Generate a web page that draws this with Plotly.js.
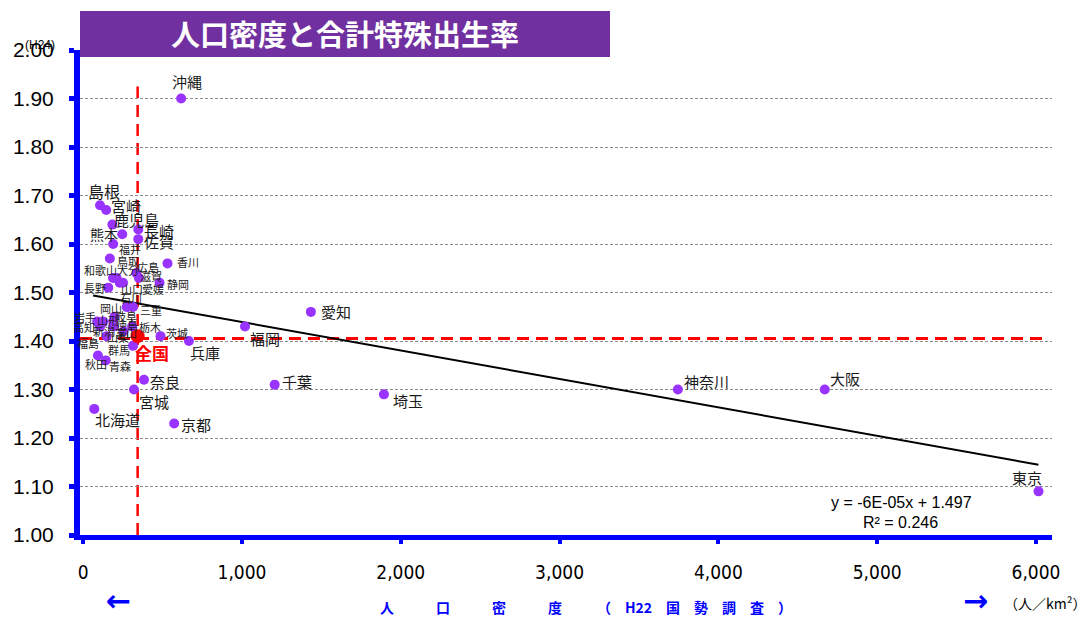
<!DOCTYPE html>
<html><head><meta charset="utf-8">
<script src="https://cdn.plot.ly/plotly-3.0.1.min.js"></script>
<style>html,body{margin:0;padding:0;background:#fff}#chart{width:1091px;height:618px}</style>
</head><body><div id="chart"></div>
<script>
// ---- data ----
const prefNames = ['北海道','青森','岩手','宮城','秋田','山形','福島','茨城','栃木','群馬','埼玉','千葉','東京','神奈川','新潟','富山','石川','福井','山梨','長野','岐阜','静岡','愛知','三重','滋賀','京都','大阪','兵庫','奈良','和歌山','鳥取','島根','岡山','広島','山口','徳島','香川','愛媛','高知','福岡','佐賀','長崎','熊本','大分','宮崎','鹿児島','沖縄'];
const density = [70,142,88,320,93,125,147,487,308,314,1894,1206,6016,3745,189,254,280,189,193,158,197,481,1434,314,351,573,4670,666,383,211,168,106,274,335,230,189,531,251,107,1019,347,347,246,188,145,184,617];
const tfr = [1.26,1.36,1.44,1.30,1.37,1.44,1.41,1.41,1.43,1.39,1.29,1.31,1.09,1.30,1.43,1.42,1.47,1.60,1.43,1.51,1.45,1.52,1.46,1.47,1.53,1.23,1.30,1.40,1.32,1.53,1.57,1.68,1.47,1.54,1.52,1.44,1.56,1.52,1.43,1.43,1.61,1.63,1.62,1.53,1.67,1.64,1.90];
const nationName = '全国';
const nationDensity = [343];
const nationTfr = [1.41];
const nationRefLineY = 1.405;
const trendX = [63, 6016];
const trendY = [1.494, 1.145];
const xTickVals = [0,1000,2000,3000,4000,5000,6000];
const yTickVals = [1.0,1.1,1.2,1.3,1.4,1.5,1.6,1.7,1.8,1.9,2.0];
const titleText = '人口密度と合計特殊出生率';
const yUnitText = '(H24)';
const eqLine1 = 'y = -6E-05x + 1.497';
const eqLine2 = 'R² = 0.246';
const xTitleText = '人　　　口　　　密　　　度　　　（　H22　国　勢　調　査　）';
const xUnitText = '（人／km²）';
const leftArrow = '←';
const rightArrow = '→';

// ---- label placement (pixel offsets, font size) ----
const labelPos = {
 '沖縄':[6,-17,15],'島根':[4,-14,16],'宮崎':[20,-5,15],'鹿児島':[24,-5,15],'熊本':[-18,0,14],
 '長崎':[21,1,15],'佐賀':[21,2,15],'福井':[17,5,11],'鳥取':[18,2,11],'香川':[20,-1,11],
 '広島':[12,-6,11],'和歌山':[-16,-8,11],'大分':[15,-8,11],'滋賀':[12,-2,11],'静岡':[18,1,11],
 '長野':[-13,0,11],'山口':[12,6,11],'愛媛':[30,6,11],'石川':[3,-9,11],'岡山':[-16,1,11],
 '三重':[18,3,11],'岩手':[-12,-5,11],'高知':[-16,1,11],'山形':[5,-2,11],'岐阜':[12,-1,11],
 '徳島':[14,3,11],'新潟':[-9,5,11],'富山':[2,2,11],'山梨':[4,11,11],'栃木':[18,1,11],
 '茨城':[16,-3,11],'福島':[-19,7,11],'群馬':[-14,4,11],'秋田':[-2,8,11],'青森':[14,6,11],
 '奈良':[21,2,15],'宮城':[20,12,15],'北海道':[23,11,15],'京都':[22,1,15],'兵庫':[16,11,15],
 '福岡':[20,12,15],'愛知':[25,0,15],'千葉':[22,-3,15],'埼玉':[24,6,15],'神奈川':[29,-8,15],
 '大阪':[20,-11,15],'東京':[-12,-14,15]
};

const W=1091,H=618,L=80,R=39,T=50,B=83;
const pw=W-L-R, ph=H-T-B;
const PX = x => (x-L)/pw;
const PY = y => (H-B-y)/ph;
const JP = '"Noto Sans CJK JP","Noto Sans",sans-serif';
const SANS = '"Liberation Sans",Arial,sans-serif';

const traces = [
 {x:trendX,y:trendY,mode:'lines',line:{color:'#000',width:2},hoverinfo:'skip'},
 {x:density,y:tfr,mode:'markers',marker:{color:'#9933FF',size:10},hoverinfo:'skip'},
 {x:nationDensity,y:nationTfr,mode:'markers',marker:{color:'#FF0000',size:14},hoverinfo:'skip'}
];

const annotations = [];
prefNames.forEach((n,i)=>{
  const p = labelPos[n] || [15,0,11];
  annotations.push({x:density[i],y:tfr[i],xref:'x',yref:'y',text:n,showarrow:true,
    arrowcolor:'rgba(0,0,0,0)',arrowwidth:0.1,ax:p[0],ay:p[1],
    font:{family:JP,size:p[2],color:'#1a1a1a'}});
});
annotations.push({x:nationDensity[0],y:nationTfr[0],xref:'x',yref:'y',text:'<b>'+nationName+'</b>',
  showarrow:true,arrowcolor:'rgba(0,0,0,0)',arrowwidth:0.1,ax:14,ay:16,
  font:{family:JP,size:17,color:'#FF0000'}});
function paperText(xp,yp,text,font){
  annotations.push({x:PX(xp),y:PY(yp),xref:'paper',yref:'paper',xanchor:'center',yanchor:'middle',
    text:text,showarrow:false,font:font,borderpad:0});
}
paperText(345,33,'<b>'+titleText+'</b>',{family:JP,size:29,color:'#fff'});
paperText(40,45,yUnitText,{family:SANS,size:12,color:'#000'});
paperText(901,502,eqLine1,{family:SANS,size:16,color:'#000'});
paperText(900,522,eqLine2,{family:SANS,size:16,color:'#000'});
paperText(586,607,'<b>'+xTitleText+'</b>',{family:JP,size:14,color:'#0000FF'});
paperText(118,600,'<b>'+leftArrow+'</b>',{family:'"DejaVu Sans",sans-serif',size:30,color:'#0000FF'});
paperText(975,600,'<b>'+rightArrow+'</b>',{family:'"DejaVu Sans",sans-serif',size:30,color:'#0000FF'});
paperText(1045,603,xUnitText,{family:JP,size:14,color:'#000'});

const shapes = [
 {type:'line',xref:'x',yref:'y',x0:nationDensity[0],x1:nationDensity[0],y0:1.0,y1:1.925,
  line:{color:'#FF0000',width:2.5,dash:'12px,7px'},layer:'below'},
 {type:'line',xref:'x',yref:'y',x0:-20,x1:6060,y0:nationRefLineY,y1:nationRefLineY,
  line:{color:'#FF0000',width:3,dash:'12px,7px'},layer:'below'},
 {type:'rect',xref:'paper',yref:'paper',x0:PX(80),x1:PX(610),y0:PY(57),y1:PY(11),
  fillcolor:'#7030A0',line:{width:0},layer:'above'}
];

const layout = {
 width:W,height:H,margin:{l:L,r:R,t:T,b:B},
 paper_bgcolor:'#fff',plot_bgcolor:'#fff',showlegend:false,
 xaxis:{range:[-20,6101],tickvals:xTickVals,tickformat:',d',showgrid:false,zeroline:false,
   showline:true,linecolor:'#0000FF',linewidth:5,ticks:'outside',ticklen:4,tickwidth:4,tickcolor:'#0000FF',
   tickfont:{family:'"Liberation Sans Narrow","DejaVu Sans Condensed","Liberation Sans",sans-serif',size:19,color:'#000'},
   ticklabelstandoff:12},
 yaxis:{range:[1,2],tickvals:yTickVals,tickformat:'.2f',showgrid:true,gridcolor:'#8c8c8c',gridwidth:1,griddash:'3px,2px',
   zeroline:false,showline:true,linecolor:'#0000FF',linewidth:6,ticks:'outside',ticklen:5,tickwidth:5,tickcolor:'#0000FF',
   tickfont:{family:SANS,size:21,color:'#000'},ticklabelstandoff:11},
 shapes:shapes,annotations:annotations
};
Plotly.newPlot('chart',traces,layout,{staticPlot:true,displayModeBar:false});
</script>
</body></html>
